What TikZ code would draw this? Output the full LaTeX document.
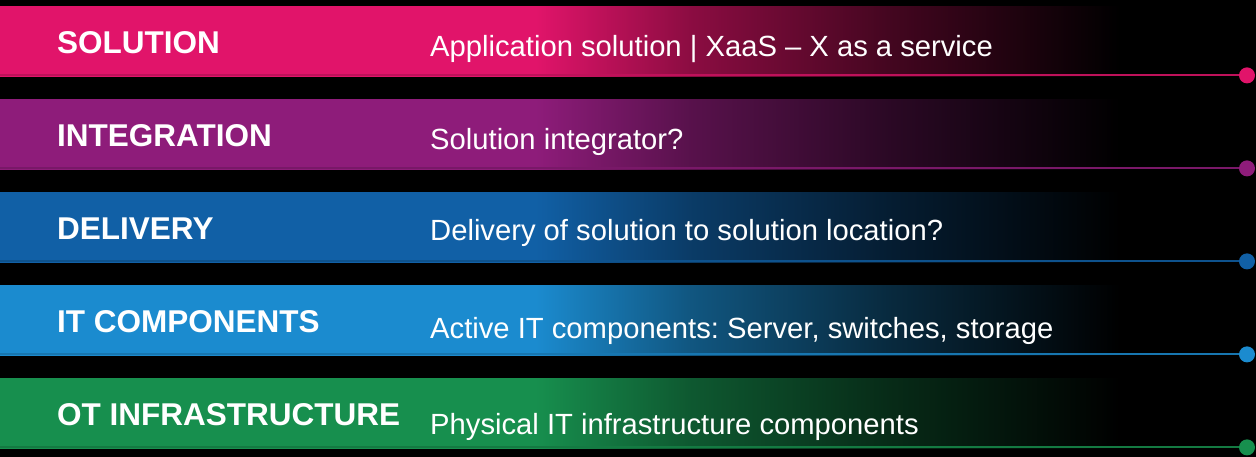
\documentclass[tikz,border=0pt]{standalone}
\usepackage{fontspec}
\setmainfont{Liberation Sans}
\frenchspacing

\definecolor{solpink}{RGB}{225,20,106}
\definecolor{intpurple}{RGB}{142,28,122}
\definecolor{delblue}{RGB}{17,96,166}
\definecolor{itblue}{RGB}{27,139,207}
\definecolor{otgreen}{RGB}{23,143,78}
\colorlet{bandcol}{black}
\colorlet{bandmid}{black}
\colorlet{banddark}{black}

% solid colour on the left, fading out to black
\pgfdeclarehorizontalshading[bandcol,bandmid,banddark]{bandfade}{100bp}{color(0bp)=(bandcol); color(48.9bp)=(bandcol); color(55.8bp)=(bandmid); color(64.7bp)=(banddark); color(75bp)=(black); color(100bp)=(black)}

\begin{document}
\begin{tikzpicture}[
  x=1pt, y=1pt,
  band/.style={shade, shading=bandfade, minimum width=1120pt, minimum height=70pt, inner sep=0pt, anchor=north west},
  lab/.style={text=white, font=\fontsize{31.5}{36}\selectfont\bfseries, anchor=base west, inner sep=0pt},
  desc/.style={text=white, font=\fontsize{29.2}{34}\selectfont, anchor=base west, inner sep=0pt},
  dot/.style={circle, fill=bandcol, minimum size=16pt, inner sep=0pt},
  bandline/.style={draw=bandcol!85!black, line width=2pt},
  ]

% Background
\fill[black] (0,0) rectangle (1256,457);
\useasboundingbox (0,0) rectangle (1256,457);

% Bands
\foreach \i/\col/\name/\text/\off in {
    1/solpink/SOLUTION/{Application solution | XaaS – X as a service}/51,
    2/intpurple/INTEGRATION/{Solution integrator?}/51,
    3/delblue/DELIVERY/{Delivery of solution to solution location?}/49,
    4/itblue/IT COMPONENTS/{Active IT components: Server, switches, storage}/54,
    5/otgreen/OT INFRASTRUCTURE/{Physical IT infrastructure components}/57}{
  \colorlet{bandcol}{\col}
  \colorlet{bandmid}{\col!62!black}
  \colorlet{banddark}{\col!30!black}
  \node[band] (band\i) at (0,{451-93*(\i-1)}) {};
  \node[lab] (lab\i) at ([shift={(57,-48)}]band\i.north west) {\name};
  \node[desc] (desc\i) at ([shift={(430,-\off)}]band\i.north west) {\text};
  \node[dot] (dot\i) at ([shift={(1247,1)}]band\i.south west) {};
  \draw[bandline] ([yshift=1pt]band\i.south west) -- (dot\i);
}

\end{tikzpicture}
\end{document}
